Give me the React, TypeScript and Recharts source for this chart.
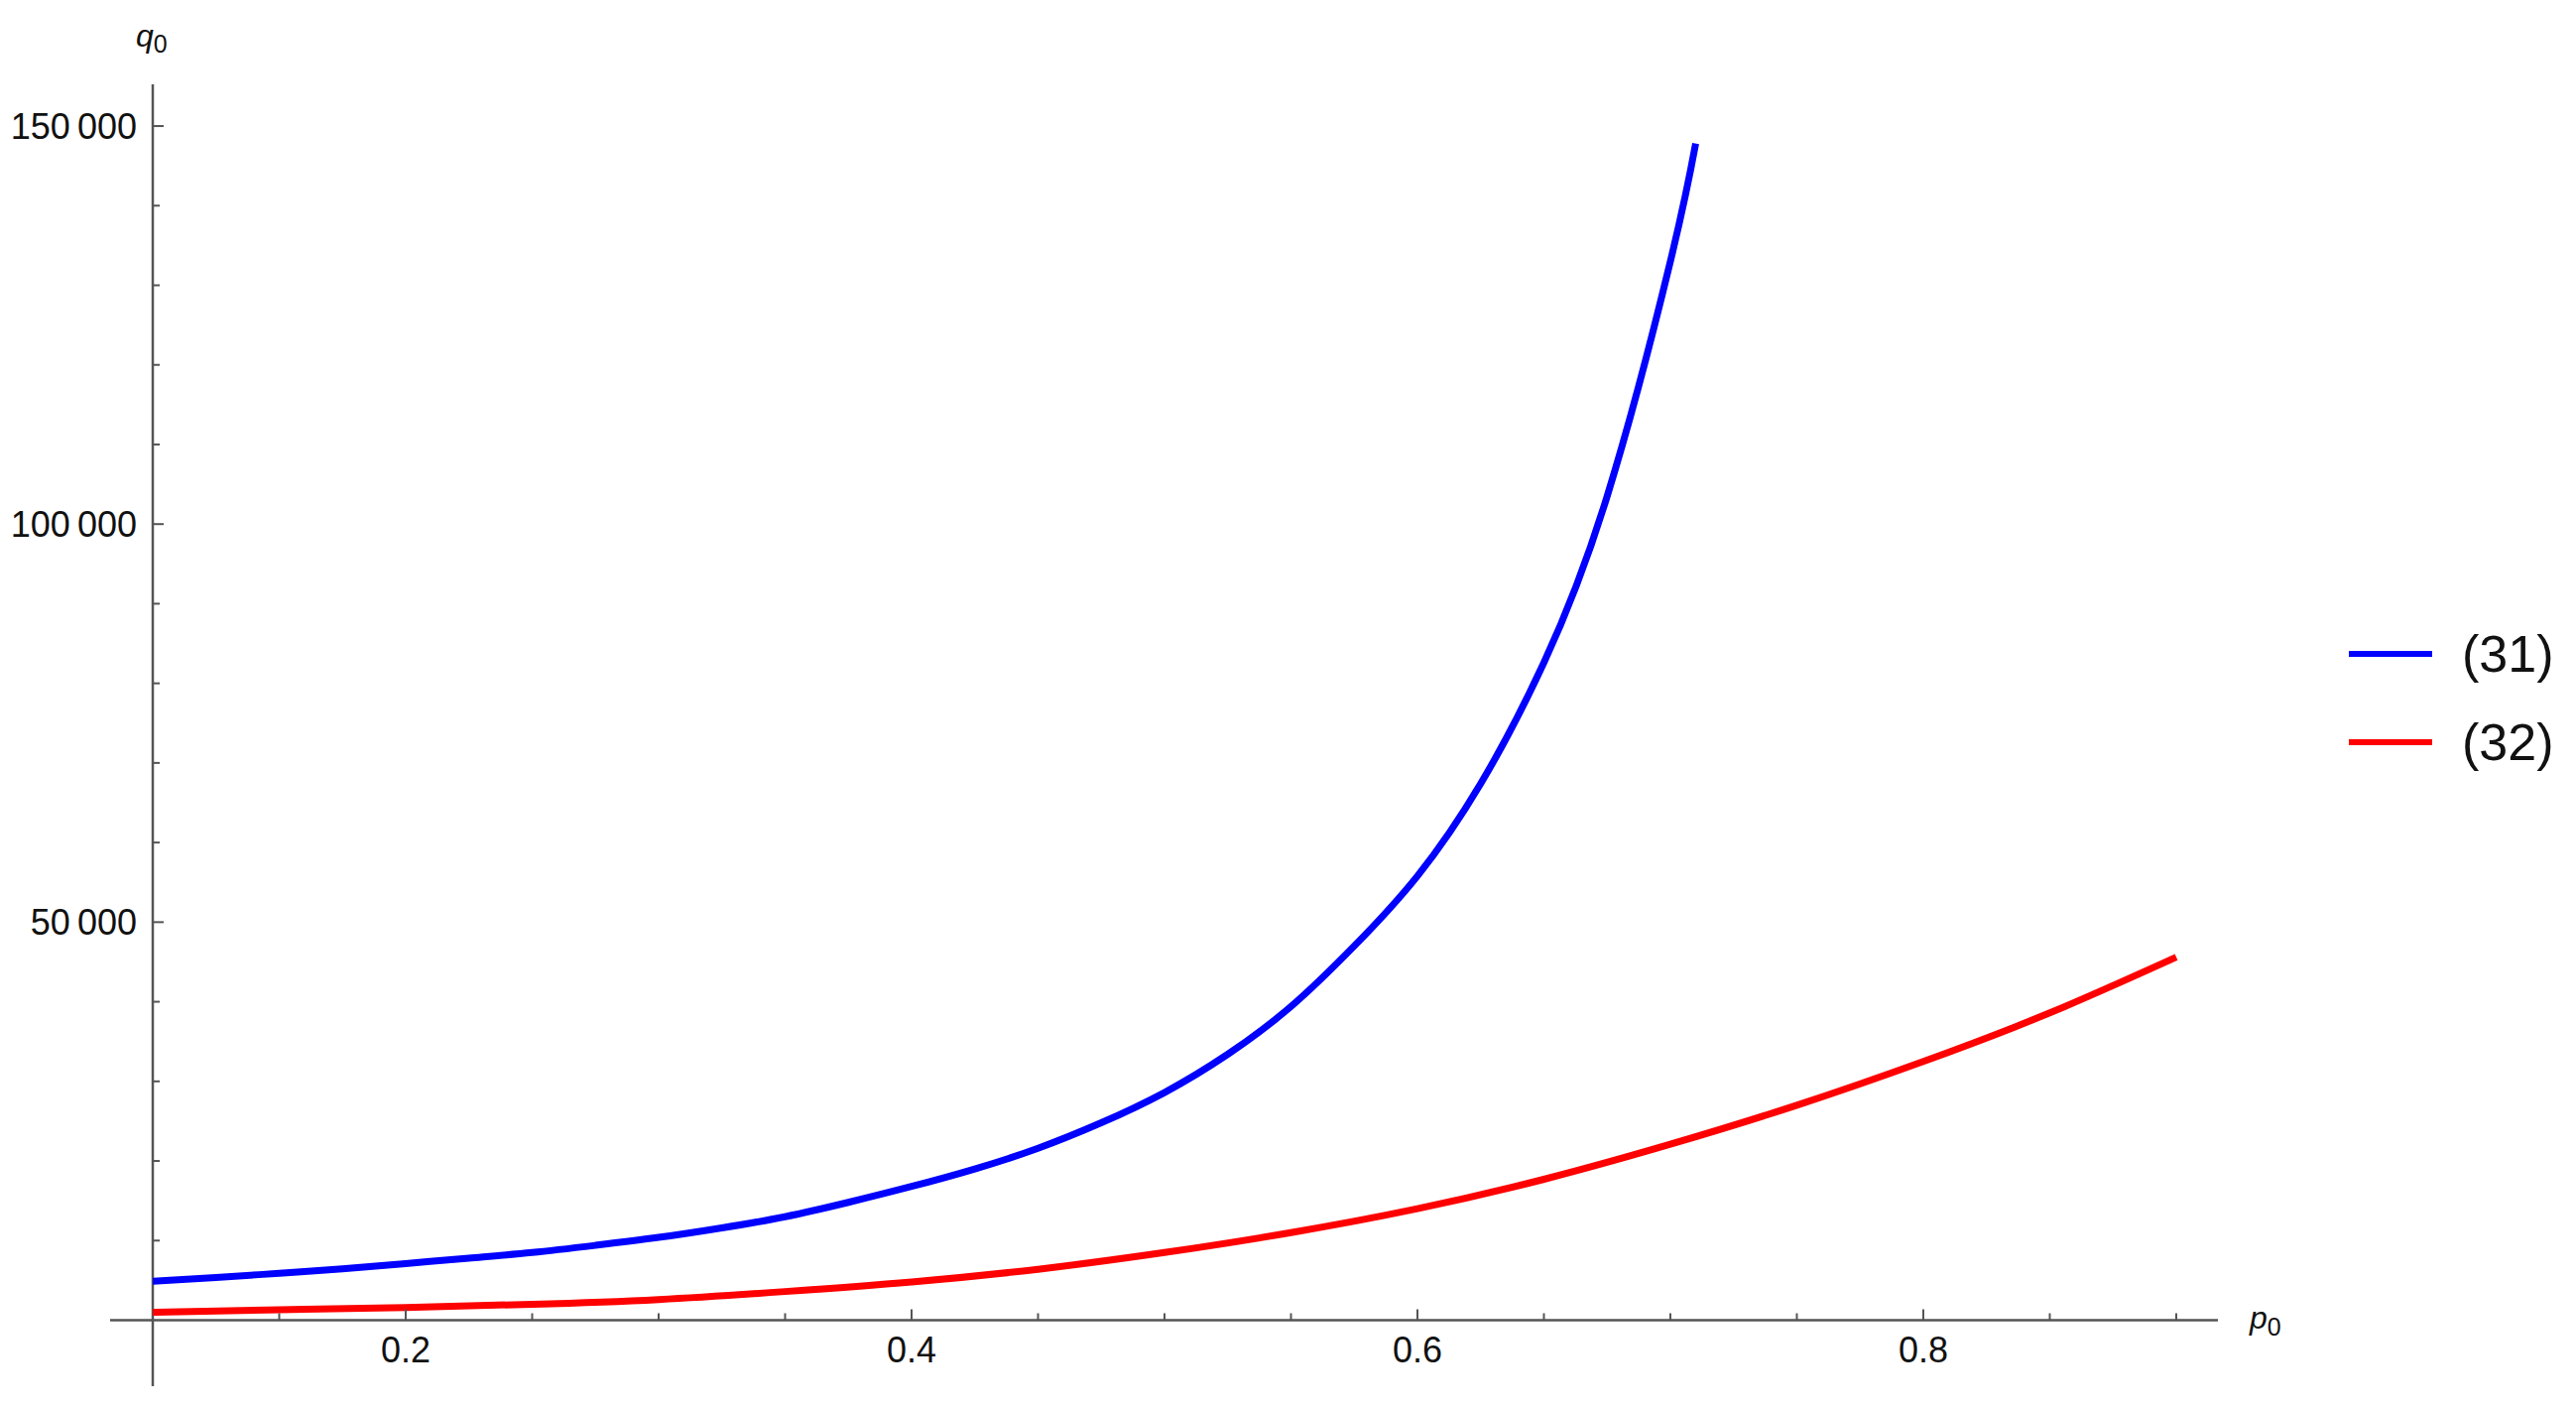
import React from 'react';
import { LineChart, Line, XAxis, YAxis, ReferenceLine, Legend } from 'recharts';

// ---- data ----
const p31 = [0.1, 0.125, 0.15, 0.175, 0.2, 0.225, 0.25, 0.275, 0.3, 0.325, 0.35, 0.375, 0.4, 0.425, 0.45, 0.475, 0.5, 0.525, 0.55, 0.575, 0.6, 0.625, 0.65, 0.675, 0.7, 0.71];
const q31 = [4900, 5350, 5900, 6450, 7100, 7800, 8500, 9400, 10400, 11600, 13000, 14800, 16800, 19000, 21600, 24800, 28600, 33400, 39400, 47000, 55800, 67400, 82600, 103500, 133000, 147800];

const p32 = [0.1, 0.15, 0.2, 0.25, 0.3, 0.35, 0.4, 0.45, 0.5, 0.55, 0.6, 0.65, 0.7, 0.75, 0.8, 0.85, 0.9];
const q32 = [1000, 1300, 1600, 2000, 2600, 3600, 4800, 6400, 8500, 11000, 14000, 17700, 22100, 27000, 32500, 38600, 45600];

const xTicks = [0.15, 0.2, 0.25, 0.3, 0.35, 0.4, 0.45, 0.5, 0.55, 0.6, 0.65, 0.7, 0.75, 0.8, 0.85, 0.9];
const xTickLabels: Record<string, string> = { '0.2': '0.2', '0.4': '0.4', '0.6': '0.6', '0.8': '0.8' };
const yTicks = [10000, 20000, 30000, 40000, 50000, 60000, 70000, 80000, 90000, 100000, 110000, 120000, 130000, 140000, 150000];
const yTickLabels: Record<string, string> = { '50000': '50\u2009000', '100000': '100\u2009000', '150000': '150\u2009000' };

const seriesNames = ['(31)', '(32)'];
const seriesColors = ['#0000ff', '#ff0000'];

const xDomain: [number, number] = [0.1, 0.91647];
const yDomain: [number, number] = [0, 155240];
const xAxisStart = 0.08314;
const yAxisStart = -8289;

const data31 = p31.map((p, i) => ({ p, q: q31[i] }));
const data32 = p32.map((p, i) => ({ p, q: q32[i] }));

const FONT = '"Liberation Sans", Arial, sans-serif';
const AX = '#555555';

const XTick = (props: any) => {
  const { x, y, payload } = props;
  const key = String(Math.round(payload.value * 100) / 100);
  const label = xTickLabels[key];
  const len = label ? 11 : 7;
  return (
    <g>
      <line x1={x} x2={x} y1={y} y2={y - len} stroke={AX} strokeWidth={2} />
      {label && (
        <text x={x} y={y + 42} textAnchor="middle" fontSize={36} fontFamily={FONT} fill="#111" stroke="none">
          {label}
        </text>
      )}
    </g>
  );
};

const YTick = (props: any) => {
  const { x, y, payload } = props;
  const label = yTickLabels[String(payload.value)];
  const len = label ? 11 : 7;
  return (
    <g>
      <line x1={x} x2={x + len} y1={y} y2={y} stroke={AX} strokeWidth={2} />
      {label && (
        <text x={x - 16} y={y + 13} textAnchor="end" fontSize={36} fontFamily={FONT} fill="#111" stroke="none">
          {label}
        </text>
      )}
    </g>
  );
};

const XLabel = (props: any) => {
  const vb = props.viewBox || {};
  const x = vb.x + vb.width + 32;
  const y = vb.y + 8;
  return (
    <text x={x} y={y} fontFamily={FONT} fill="#111">
      <tspan fontSize={32} fontStyle="italic">p</tspan>
      <tspan fontSize={25} dy={7}>0</tspan>
    </text>
  );
};

const YLabel = (props: any) => {
  const vb = props.viewBox || {};
  const x = vb.x + vb.width - 17;
  const y = vb.y - 38;
  return (
    <text x={x} y={y} fontFamily={FONT} fill="#111">
      <tspan fontSize={32} fontStyle="italic">q</tspan>
      <tspan fontSize={25} dy={6}>0</tspan>
    </text>
  );
};

const LegendContent = (props: any) => {
  const items = props.payload || [];
  return (
    <div style={{ fontFamily: FONT }}>
      {items.map((it: any, i: number) => (
        <div key={i} style={{ display: 'flex', alignItems: 'center', height: 89 }}>
          <div style={{ width: 84, height: 6, background: it.color }} />
          <div style={{ marginLeft: 30, fontSize: 52, lineHeight: '52px', color: '#111' }}>{it.value}</div>
        </div>
      ))}
    </div>
  );
};

export default function App() {
  return (
    <div style={{ position: 'absolute', left: 0, top: 0, background: '#fff' }}>
      <LineChart
        width={2597}
        height={1419}
        margin={{ top: 85, right: 361, bottom: 87.5, left: 153 }}
      >
        <XAxis
          type="number"
          dataKey="p"
          domain={xDomain}
          allowDataOverflow
          ticks={xTicks}
          interval={0}
          height={1}
          axisLine={false}
          tickLine={false}
          tickSize={0}
          tickMargin={0}
          tick={<XTick />}
          label={<XLabel />}
        />
        <YAxis
          type="number"
          dataKey="q"
          domain={yDomain}
          allowDataOverflow
          ticks={yTicks}
          interval={0}
          width={1}
          axisLine={false}
          tickLine={false}
          tickSize={0}
          tickMargin={0}
          tick={<YTick />}
          label={<YLabel />}
        />
        <ReferenceLine
          segment={[{ x: xAxisStart, y: 0 }, { x: xDomain[1], y: 0 }]}
          stroke={AX}
          strokeWidth={2.5}
          ifOverflow="visible"
        />
        <ReferenceLine
          segment={[{ x: xDomain[0], y: yAxisStart }, { x: xDomain[0], y: yDomain[1] }]}
          stroke={AX}
          strokeWidth={2.5}
          ifOverflow="visible"
        />
        <Line
          data={data31}
          dataKey="q"
          name={seriesNames[0]}
          type="natural"
          stroke={seriesColors[0]}
          strokeWidth={7}
          dot={false}
          activeDot={false}
          isAnimationActive={false}
        />
        <Line
          data={data32}
          dataKey="q"
          name={seriesNames[1]}
          type="natural"
          stroke={seriesColors[1]}
          strokeWidth={7}
          dot={false}
          activeDot={false}
          isAnimationActive={false}
        />
        <Legend
          layout="vertical"
          align="center"
          verticalAlign="middle"
          content={<LegendContent />}
          wrapperStyle={{ left: 2368, top: 614.5, width: 229, height: 178 }}
        />
      </LineChart>
    </div>
  );
}
